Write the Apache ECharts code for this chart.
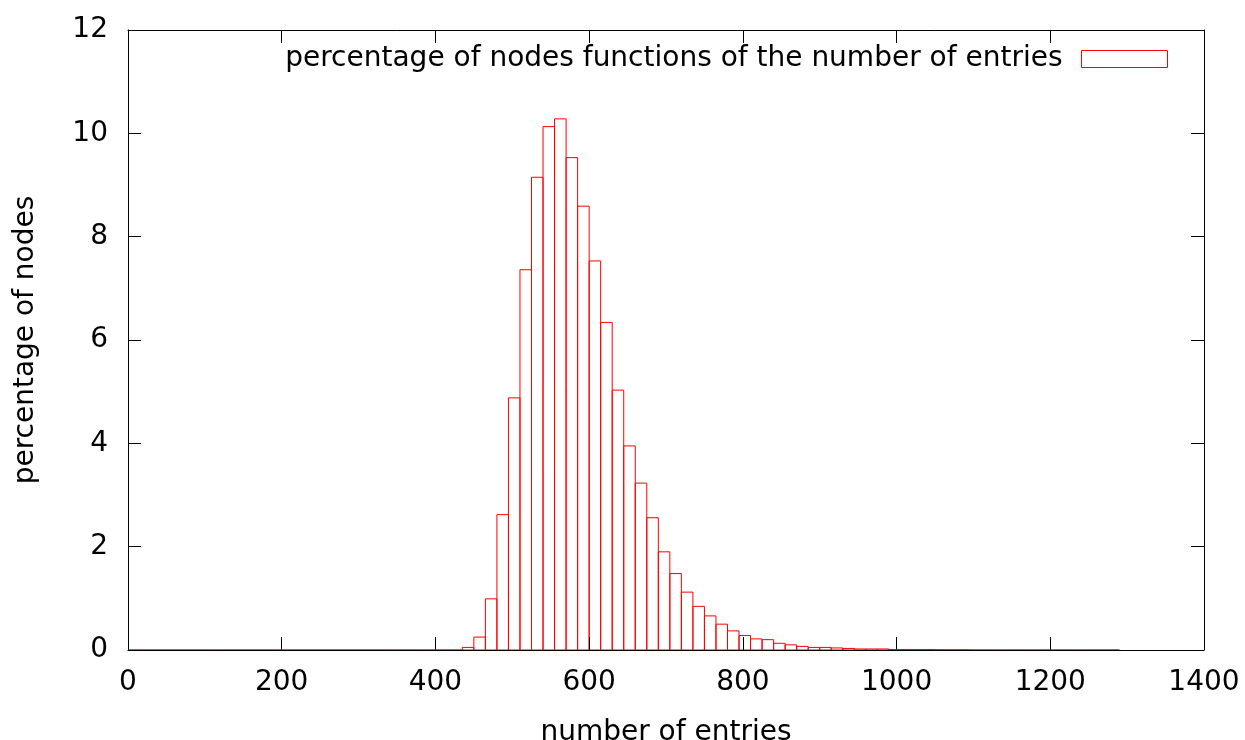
<!DOCTYPE html>
<html>
<head>
<meta charset="utf-8">
<script src="https://cdn.jsdelivr.net/npm/echarts@6/dist/echarts.min.js"></script>
<style>
  html, body { margin: 0; padding: 0; background: #ffffff; }
  #chart { width: 1245px; height: 740px; }
</style>
</head>
<body>
<div id="chart"></div>
<script>
// Histogram of node sizes: each bin covers binWidth entries, starting at binStarts[i].
const binWidth = 15;
const binStarts = [
  0, 15, 30, 45, 60, 75, 90, 105, 120, 135,
  150, 165, 180, 195, 210, 225, 240, 255, 270, 285,
  300, 315, 330, 345, 360, 375, 390, 405, 420, 435,
  450, 465, 480, 495, 510, 525, 540, 555, 570, 585,
  600, 615, 630, 645, 660, 675, 690, 705, 720, 735,
  750, 765, 780, 795, 810, 825, 840, 855, 870, 885,
  900, 915, 930, 945, 960, 975, 990, 1005, 1020, 1035,
  1050, 1065, 1080, 1095, 1110, 1125, 1140, 1155, 1170, 1185,
  1200, 1215, 1230, 1245, 1260, 1275
];
// Percentage of nodes falling into each bin.
const percentages = [
  0, 0, 0, 0, 0, 0, 0, 0, 0, 0,
  0, 0, 0, 0, 0, 0, 0, 0, 0, 0,
  0, 0, 0, 0, 0, 0, 0, 0, 0, 0.05,
  0.25, 0.99, 2.62, 4.88, 7.36, 9.15, 10.13, 10.28, 9.53, 8.59,
  7.53, 6.34, 5.03, 3.95, 3.23, 2.56, 1.90, 1.48, 1.12, 0.845,
  0.66, 0.50, 0.37, 0.28, 0.215, 0.20, 0.13, 0.10, 0.07, 0.05,
  0.05, 0.04, 0.03, 0.02, 0.02, 0.02, 0.01, 0.01, 0.01, 0.01,
  0.005, 0.005, 0.005, 0, 0, 0, 0, 0, 0, 0,
  0, 0, 0, 0, 0, 0
];

const seriesName = 'percentage of nodes functions of the number of entries';
const xTitle = 'number of entries';
const yTitle = 'percentage of nodes';
const xRange = { min: 0, max: 1400, step: 200 };
const yRange = { min: 0, max: 12, step: 2 };

const FONT = 'DejaVu Sans';
const FONT_SIZE = 28;
const BAR_COLOR = '#ff0000';

const chart = echarts.init(document.getElementById('chart'), null, { renderer: 'canvas' });

const axisLineStyle = { show: true, onZero: false, lineStyle: { color: '#000000', width: 1 } };
const tickStyle = { show: true, inside: true, length: 13, lineStyle: { color: '#000000', width: 1 } };
const labelStyle = { color: '#000000', fontFamily: FONT, fontSize: FONT_SIZE };
const plainNumber = v => String(v);

const option = {
  backgroundColor: '#ffffff',
  animation: false,
  textStyle: { fontFamily: FONT },
  grid: { left: 128, right: 41, top: 30, bottom: 90, containLabel: false, outerBoundsMode: 'none' },
  legend: {
    right: 77,
    top: 45,
    padding: 0,
    align: 'right',
    itemWidth: 86,
    itemHeight: 17,
    selectedMode: false,
    textStyle: { color: '#000000', fontFamily: FONT, fontSize: FONT_SIZE, padding: [0, 14, 0, 0] },
    data: [{
      name: seriesName,
      icon: 'rect',
      itemStyle: { color: '#ffffff', borderColor: BAR_COLOR, borderWidth: 1 }
    }]
  },
  xAxis: [
    {
      type: 'value',
      position: 'bottom',
      min: xRange.min, max: xRange.max, interval: xRange.step,
      z: 5,
      axisLine: axisLineStyle,
      axisTick: tickStyle,
      splitLine: { show: false },
      axisLabel: Object.assign({ margin: 19, formatter: plainNumber }, labelStyle),
      name: xTitle,
      nameLocation: 'middle',
      nameGap: 69,
      nameTextStyle: labelStyle
    },
    {
      type: 'value',
      position: 'top',
      min: xRange.min, max: xRange.max, interval: xRange.step,
      z: 5,
      axisLine: axisLineStyle,
      axisTick: tickStyle,
      splitLine: { show: false },
      axisLabel: { show: false }
    }
  ],
  yAxis: [
    {
      type: 'value',
      position: 'left',
      min: yRange.min, max: yRange.max, interval: yRange.step,
      z: 5,
      axisLine: axisLineStyle,
      axisTick: tickStyle,
      splitLine: { show: false },
      axisLabel: Object.assign({ margin: 20, formatter: plainNumber }, labelStyle),
      name: yTitle,
      nameLocation: 'middle',
      nameGap: 88,
      nameRotate: 90,
      nameTextStyle: labelStyle
    },
    {
      type: 'value',
      position: 'right',
      min: yRange.min, max: yRange.max, interval: yRange.step,
      z: 5,
      axisLine: axisLineStyle,
      axisTick: tickStyle,
      splitLine: { show: false },
      axisLabel: { show: false }
    }
  ],
  series: [{
    name: seriesName,
    type: 'custom',
    xAxisIndex: 0,
    yAxisIndex: 0,
    z: 2,
    itemStyle: { color: BAR_COLOR },
    data: binStarts.map((s, i) => [s, percentages[i]]),
    renderItem: function (params, api) {
      const start = api.value(0);
      const value = api.value(1);
      const topLeft = api.coord([start, value]);
      const bottomRight = api.coord([start + binWidth, 0]);
      return {
        type: 'rect',
        shape: {
          x: topLeft[0],
          y: topLeft[1],
          width: bottomRight[0] - topLeft[0],
          height: bottomRight[1] - topLeft[1]
        },
        style: { fill: 'none', stroke: BAR_COLOR, lineWidth: 1 }
      };
    }
  }]
};

chart.setOption(option);
</script>
</body>
</html>
